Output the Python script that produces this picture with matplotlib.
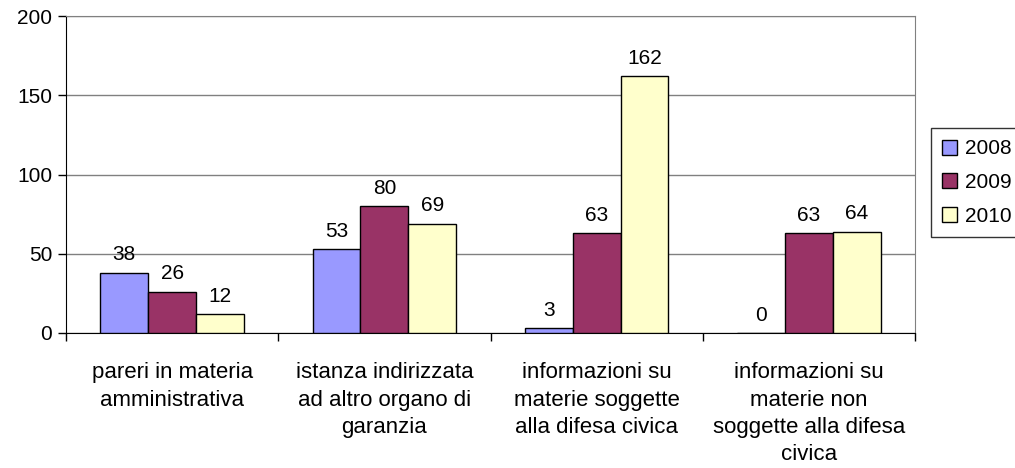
import matplotlib
matplotlib.use("Agg")
import matplotlib.pyplot as plt
import numpy as np

categories = ["pareri in materia\namministrativa",
              "istanza indirizzata\nad altro organo di\ngaranzia",
              "informazioni su\nmaterie soggette\nalla difesa civica",
              "informazioni su\nmaterie non\nsoggette alla difesa\ncivica"]
years = ["2008", "2009", "2010"]
v2008 = [38, 53, 3, 0]
v2009 = [26, 80, 63, 63]
v2010 = [12, 69, 162, 64]
colors = ["#9999FF", "#993366", "#FFFFCC"]

plt.rcParams['font.family'] = ['Liberation Sans', 'DejaVu Sans']
fig = plt.figure(figsize=(10.15, 4.68), dpi=100)
W, H = 1015, 468
ax = fig.add_axes([66 / W, 1 - 333 / H, (915 - 66) / W, (333 - 16) / H])

x = np.arange(len(categories))
bw = 0.225
series = [v2008, v2009, v2010]
for i, (vals, c, lab) in enumerate(zip(series, colors, years)):
    pos = x + (i - 1) * bw
    bars = ax.bar(pos, vals, width=bw, color=c, edgecolor="black", linewidth=1, label=lab, zorder=3)
    for b, v in zip(bars, vals):
        ax.annotate(str(v), (b.get_x() + b.get_width() / 2, v), xytext=(0, 6),
                    textcoords="offset points", ha="center", va="bottom", fontsize=15, zorder=4)

ax.set_xlim(-0.5, 3.5)
ax.set_ylim(0, 200)
ax.set_yticks([0, 50, 100, 150, 200])
ax.yaxis.grid(True, color="#808080", linewidth=1, zorder=0)
ax.tick_params(axis="y", labelsize=15, direction="out", length=6, width=1, pad=4)
ax.set_xticks([-0.5, 0.5, 1.5, 2.5, 3.5])
ax.set_xticklabels([])
ax.tick_params(axis="x", direction="out", length=6, width=1)
ax.set_xticks(x, minor=True)
ax.set_xticklabels(categories, minor=True, fontsize=16, linespacing=1.4)
ax.tick_params(axis="x", which="minor", length=0, pad=21)
for s in ["top", "right"]:
    ax.spines[s].set_color("#808080")
ax.spines["left"].set_color("black")
ax.spines["bottom"].set_color("black")

leg = ax.legend(loc="upper left", bbox_to_anchor=(931 / W, 1 - 128 / H), bbox_transform=fig.transFigure,
                frameon=True, fancybox=False, edgecolor="black", fontsize=15,
                handlelength=0.72, handleheight=0.72, handletextpad=0.35, labelspacing=0.7,
                borderpad=0.55, borderaxespad=0)
leg.get_frame().set_linewidth(1)

fig.savefig("out.png", dpi=100)
